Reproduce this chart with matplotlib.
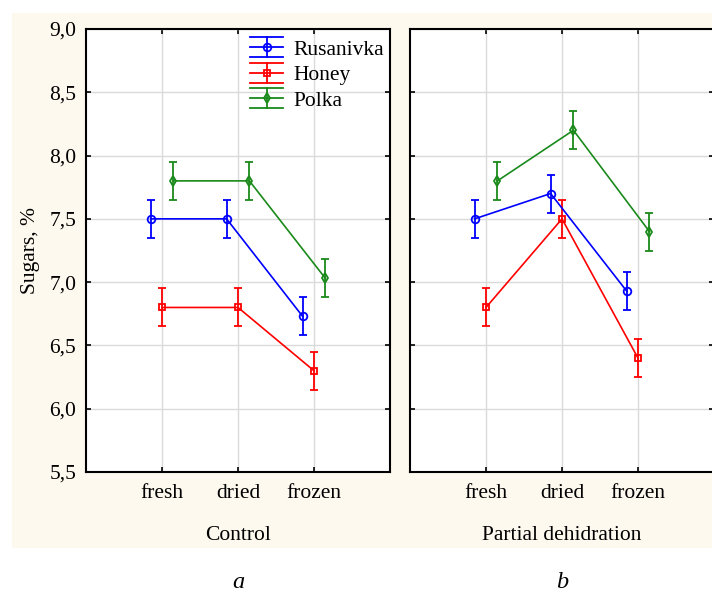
import matplotlib
matplotlib.use('Agg')
import matplotlib.pyplot as plt
from matplotlib.patches import Rectangle
from matplotlib.legend_handler import HandlerBase
from matplotlib.lines import Line2D
from matplotlib.ticker import FuncFormatter
import numpy as np

plt.rcParams['font.family'] = ['Liberation Serif', 'DejaVu Serif']

# ---- data ----
categories = ['fresh', 'dried', 'frozen']
series_names = ['Rusanivka', 'Honey', 'Polka']

control_rusanivka = [7.50, 7.50, 6.73]
control_honey = [6.80, 6.80, 6.30]
control_polka = [7.80, 7.80, 7.03]

partial_rusanivka = [7.50, 7.70, 6.93]
partial_honey = [6.80, 7.50, 6.40]
partial_polka = [7.80, 8.20, 7.40]

control_err = [0.15, 0.15, 0.15]
partial_err = [0.15, 0.15, 0.15]

panel_titles = ['Control', 'Partial dehidration']
panel_letters = ['a', 'b']
y_ticks = [5.5, 6.0, 6.5, 7.0, 7.5, 8.0, 8.5, 9.0]

# ---- styles ----
colors = ['#0000ff', '#ff0000', '#1a8a1a']
markers = ['o', 's', 'd']
msizes = [5.5, 5.0, 5.0]
offsets = [-0.15, 0.0, 0.15]
FS = 15.5

fig = plt.figure(figsize=(7.12, 5.92), dpi=100)
fig.patch.set_facecolor('white')
bg = Rectangle((12 / 712, 1 - 548 / 592), 1.0, (548 - 13) / 592,
               transform=fig.transFigure, facecolor='#fdf9ee',
               edgecolor='none', zorder=-10)
fig.add_artist(bg)

ax_w = 304 / 712
ax_b = 1 - 472 / 592
ax_h = (472 - 29) / 592
ax1 = fig.add_axes([86 / 712, ax_b, ax_w, ax_h])
ax2 = fig.add_axes([410 / 712, ax_b, ax_w, ax_h])

panels = [
    (ax1, [control_rusanivka, control_honey, control_polka], control_err),
    (ax2, [partial_rusanivka, partial_honey, partial_polka], partial_err),
]

xbase = np.arange(1, len(categories) + 1)
fmt = FuncFormatter(lambda v, p: f"{v:.1f}".replace('.', ','))

for i, (ax, vals, err) in enumerate(panels):
    ax.set_facecolor('white')
    ax.set_axisbelow(True)
    for s, v in enumerate(vals):
        ax.errorbar(xbase + offsets[s], v, yerr=err, color=colors[s],
                    marker=markers[s], markersize=msizes[s],
                    markerfacecolor='none', markeredgecolor=colors[s],
                    markeredgewidth=1.3, lw=1.2, elinewidth=1.3,
                    capsize=3, capthick=1.3, zorder=3)
    ax.set_xlim(0, 4)
    ax.set_ylim(5.5, 9.0)
    ax.set_xticks(xbase)
    ax.set_xticklabels(categories, fontsize=FS)
    ax.set_yticks(y_ticks)
    ax.yaxis.set_major_formatter(fmt)
    ax.tick_params(direction='in', length=3.5, width=1.2, top=True, right=True,
                   labelsize=FS)
    ax.tick_params(axis='y', pad=7)
    ax.tick_params(axis='x', pad=9)
    ax.grid(True, color='#dadada', lw=1.0)
    for sp in ax.spines.values():
        sp.set_linewidth(1.5)
        sp.set_color('black')
    if i == 1:
        ax.tick_params(labelleft=False)
    cx = (ax.get_position().x0 + ax.get_position().x1) / 2
    fig.text(cx, 1 - 535 / 592, panel_titles[i], ha='center', va='center', fontsize=FS)
    fig.text(cx, 1 - 582 / 592, panel_letters[i], ha='center', va='center',
             fontsize=FS + 2, style='italic')

fig.text(30 / 712, 1 - 250 / 592, 'Sugars, %', rotation=90, ha='center',
         va='center', fontsize=FS)


class StatHandler(HandlerBase):
    def create_artists(self, legend, orig_handle, xdescent, ydescent, width,
                       height, fontsize, trans):
        c = orig_handle.get_color()
        m = orig_handle.get_marker()
        ms = orig_handle.get_markersize()
        x0 = -xdescent
        x1 = x0 + width
        xc = (x0 + x1) / 2
        yc = height / 2 - ydescent
        d = 0.46 * fontsize
        arts = []
        for yy in (yc - d, yc, yc + d):
            arts.append(Line2D([x0, x1], [yy, yy], color=c, lw=1.3))
        arts.append(Line2D([xc, xc], [yc - d, yc + d], color=c, lw=1.3))
        arts.append(Line2D([xc], [yc], marker=m, markersize=ms, color=c,
                           markerfacecolor='none', markeredgewidth=1.3, lw=0))
        for a in arts:
            a.set_transform(trans)
        return arts


proxies = [Line2D([], [], color=colors[s], marker=markers[s], markersize=msizes[s])
           for s in range(3)]
ax1.legend(proxies, series_names, handler_map={Line2D: StatHandler()},
           loc='upper left', bbox_to_anchor=((250 - 86) / 304, 0.976),
           frameon=False, fontsize=FS, handlelength=1.55, handletextpad=0.45,
           labelspacing=0.25, borderpad=0, borderaxespad=0)

fig.savefig('out.png', dpi=100)
